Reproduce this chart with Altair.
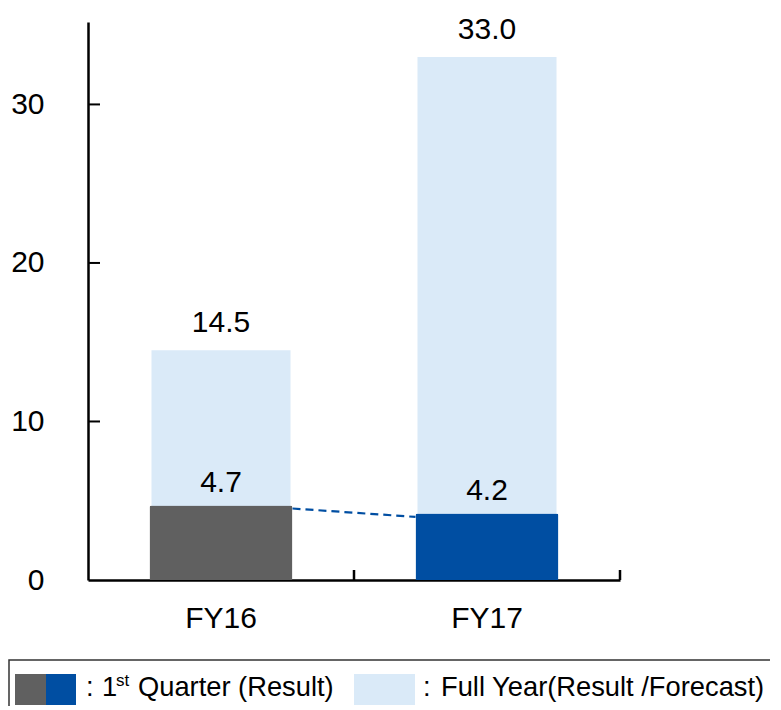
import altair as alt
import pandas as pd

categories = ["FY16", "FY17"]
q1_values = [4.7, 4.2]
full_values = [14.5, 33.0]
q1_colors = ["#606060", "#004EA2"]
full_color = "#DAEAF8"
y_ticks = [0, 10, 20, 30]

FONT = "Liberation Sans"
W, H = 532, 558
DARK_W, LIGHT_W = 143, 139

df = pd.DataFrame({
    "cat": categories,
    "q1": q1_values,
    "full": full_values,
    "q1_label": [f"{v:.1f}" for v in q1_values],
    "full_label": [f"{v:.1f}" for v in full_values],
})

xscale = alt.Scale(domain=categories, paddingInner=0, paddingOuter=0)
yscale = alt.Scale(domain=[0, 35.2], nice=False, zero=True)

x_axis = alt.Axis(title=None, labelFontSize=30, labelFont=FONT, labelColor="black",
                  labelPadding=23, labelBaseline="top", labelAngle=0, ticks=False,
                  tickSize=0, domainColor="black", domainWidth=2.5, grid=False)
y_axis = alt.Axis(title=None, values=y_ticks, labelFontSize=30, labelFont=FONT,
                  labelColor="black", labelPadding=44, ticks=False, tickSize=0,
                  domainColor="black", domainWidth=2.5, grid=False, labelBaseline="middle")

base = alt.Chart(df)

light = base.mark_bar(width=LIGHT_W, color=full_color).encode(
    x=alt.X("cat:N", scale=xscale, axis=x_axis, title=None),
    y=alt.Y("full:Q", scale=yscale, axis=y_axis, title=None),
)

dark = base.mark_bar(width=DARK_W, cornerRadiusTopLeft=2, cornerRadiusTopRight=2).encode(
    x=alt.X("cat:N", scale=xscale, title=None),
    y=alt.Y("q1:Q", scale=yscale, title=None),
    color=alt.Color("cat:N", scale=alt.Scale(domain=categories, range=q1_colors), legend=None),
)

conn_df = pd.DataFrame({"from": [categories[0]], "to": [categories[1]],
                        "y1": [q1_values[0]], "y2": [q1_values[1]]})
conn = alt.Chart(conn_df).mark_rule(
    strokeDash=[8, 5], strokeWidth=2.2, color="#004EA2",
    xOffset=DARK_W / 2, x2Offset=-DARK_W / 2, yOffset=3, y2Offset=3.5,
).encode(
    x=alt.X("from:N", scale=xscale, bandPosition=0.5, title=None),
    x2=alt.X2("to:N", bandPosition=0.5),
    y=alt.Y("y1:Q", scale=yscale, title=None),
    y2="y2:Q",
)

full_text = base.mark_text(fontSize=30, font=FONT, color="black", baseline="alphabetic", dy=-18).encode(
    x=alt.X("cat:N", scale=xscale, title=None),
    y=alt.Y("full:Q", scale=yscale, title=None),
    text="full_label:N",
)
q1_text = base.mark_text(fontSize=30, font=FONT, color="black", baseline="alphabetic", dy=-13).encode(
    x=alt.X("cat:N", scale=xscale, title=None),
    y=alt.Y("q1:Q", scale=yscale, title=None),
    text="q1_label:N",
)

ytick_df = pd.DataFrame({"v": y_ticks[1:]})
yticks = alt.Chart(ytick_df).mark_rule(color="black", strokeWidth=2).encode(
    x=alt.value(0), x2=alt.value(12),
    y=alt.Y("v:Q", scale=yscale, title=None),
)
xticks = base.mark_rule(color="black", strokeWidth=2.5).encode(
    x=alt.X("cat:N", scale=xscale, bandPosition=1, title=None),
    y=alt.value(H), y2=alt.value(H - 10),
)

one = pd.DataFrame({"a": [0]})
def rect(x1, x2, y1, y2, **kw):
    return alt.Chart(one).mark_rect(**kw).encode(
        x=alt.value(x1), x2=alt.value(x2), y=alt.value(y1), y2=alt.value(y2))

def txt(s, xp, yp, size=27.3):
    return alt.Chart(one).mark_text(text=s, align="left", baseline="alphabetic",
                                    fontSize=size, font=FONT, color="black").encode(
        x=alt.value(xp), y=alt.value(yp))

legend = [
    rect(-79, 693, 638, 700, fill=None, stroke="#333333", strokeWidth=1.5),
    rect(-73, -42, 652, 683, color=q1_colors[0]),
    rect(-42, -12, 652, 683, color=q1_colors[1]),
    rect(266, 327, 652, 683, color=full_color),
    txt(":", -2, 674),
    txt("1", 14, 674),
    txt("st", 28, 664, size=17),
    txt("Quarter (Result)", 50, 674),
    txt(":", 335, 674),
    txt("Full Year(Result /Forecast)", 353, 674),
]

chart = alt.layer(light, dark, conn, full_text, q1_text, yticks, xticks, *legend).properties(
    width=W, height=H,
    autosize=alt.AutoSizeParams(type="none"),
    padding={"left": 80, "top": 14, "right": 150, "bottom": 126},
).configure_view(stroke=None)

chart.save("out.html", embed_options={"renderer": "svg", "actions": False})
